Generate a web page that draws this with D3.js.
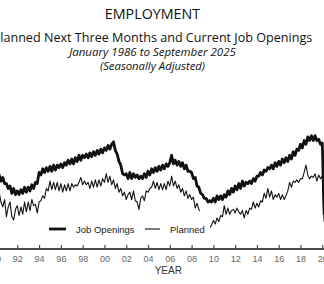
<!DOCTYPE html>
<html lang="en">
<head>
  <meta charset="UTF-8">
  <title>Employment – Planned and Current Job Openings</title>
  <script src="https://d3js.org/d3.v7.min.js"></script>
  <style>
    body {
      margin: 0;
      background: #fff;
    }

    .title {
      font-family: "Open Sans", sans-serif;
      fill: #111;
    }

    .axis text {
      font-family: "Liberation Sans", Arial, sans-serif;
      font-size: 9px;
      fill: #666;
    }

    .legend text {
      font-family: "Liberation Sans", Arial, sans-serif;
      font-size: 9.5px;
      fill: #222;
    }
  </style>
</head>
<body>

<div id="chart"></div>

<script>
  // bi-monthly readings (%), first point Jan 1990
  var startYear = 1990;
  var step = 2 / 12;

  var jobOpenings = [
    20, 18.5, 20, 17.5, 19, 16.5,
    16.5, 14.5, 15.5, 12.5, 14.5, 12,
    13.5, 12, 14, 12.5, 15, 13,
    15, 13.5, 16, 14.5, 17, 16.5,
    21, 20, 22.5, 21, 23, 21.5,
    23.5, 21.5, 24, 22, 24, 23,
    24.5, 23, 25, 24, 26, 24.5,
    26.5, 24.5, 27, 25.5, 28, 26,
    28, 27, 28.5, 27, 29, 27.5,
    29.5, 28, 30, 28.5, 30.5, 29,
    31, 30, 32, 30.5, 32.5, 33.5,
    30, 28.5, 25.5, 24, 20.5, 20,
    20.5, 18.5, 21, 18.5, 20.5, 19,
    20, 18.5, 19.5, 18.5, 20.5, 19,
    21.5, 20, 22.5, 21, 23, 21.5,
    23.5, 22, 24, 22.5, 24.5, 23.5,
    25, 28, 24.5, 26, 24, 25.5,
    23.5, 25, 22.5, 24, 21.5, 21.5,
    21, 18.5, 19, 15.5, 15, 12.5,
    12, 10.5, 10.5, 9, 9.5, 9,
    10.5, 9, 11.5, 10, 11.5, 10,
    12, 11, 13.5, 12, 14.5, 13,
    15.5, 14, 16.5, 14.5, 17.5, 15.5,
    17, 16.5, 17.5, 16.5, 18.5, 17.5,
    19.5, 19.5, 21, 20, 22, 21.5,
    23, 22.5, 24, 22.5, 25, 23.5,
    25.5, 24, 26.5, 25, 27, 25.5,
    28, 26.5, 29.5, 28, 30.5, 30,
    32.5, 31, 34, 32.5, 35.5, 34,
    36, 34, 36, 34, 34.5, 32.5,
    33, 4
  ];

  var planned = [
    15, 12, 13, 9, 7, 10,
    3, 7, 9, 3, 1.7, 6,
    7.5, 3.5, 7, 4, 9, 5,
    9, 5.5, 10, 7.5, 8, 4.5,
    9, 9.5, 11.5, 10.5, 14.5, 13.5,
    17.5, 14, 17, 14, 17, 13.5,
    16.5, 13, 16, 13.5, 16.5, 13.5,
    16.5, 15, 16, 15.5, 17, 19,
    16, 17.5, 16, 17, 14.5, 17.5,
    15, 18, 15, 18, 15.5, 18.5,
    17, 20.5, 17, 19.5, 16, 18,
    14.5, 16.5, 13, 14.5, 11.5, 13,
    10, 12, 13, 10, 13.5, 9.5,
    9, 6, 10.5, 11.5, 9.5, 13.5,
    13, 14.5, 15, 17.5, 14.5, 17,
    14, 16.5, 14, 16.5, 14, 17.5,
    15.5, 19.5, 15.5, 17.5, 14.5, 16,
    13, 14.5, 11.5, 13.5, 10.5, 12,
    10, 11, 6.5, 8.5, 6, 4,
    1, -1, -3, -2.5, -1.5, -0.4,
    1.5, 0, 2.5, 1, 3.5, 3,
    7.5, 4, 6.5, 4, 5.5, 6,
    4.5, 6.5, 5, 4, 5.5, 2.5,
    5.5, 4, 6.5, 6, 9, 6.5,
    8.5, 7, 9.5, 9, 12.5, 10.5,
    14.5, 11, 13.5, 10, 12, 11,
    12.5, 10, 12, 10, 11.5, 13.5,
    17, 15, 17.5, 17, 18, 17,
    18.5, 18.5, 21, 24, 20, 18.5,
    19.5, 19, 20.5, 17.5, 20, 18.5,
    19.5, 1
  ];

  var tickYears = d3.range(1990, 2021, 2);
  var seriesNames = ["Job Openings", "Planned"];
  var titleLines = [
    "EMPLOYMENT",
    "Planned Next Three Months and Current Job Openings",
    "January 1986 to September 2025",
    "(Seasonally Adjusted)"
  ];

  var width = 324;
  var height = 284;

  var svg = d3.select("#chart")
    .append("svg")
    .attr("width", width)
    .attr("height", height);

  var x = d3.scaleLinear()
    .domain([1992, 2020])
    .range([17.3, 322.3]);

  var y = d3.scaleLinear()
    .domain([0, 40])
    .range([224.1, 125.8]);

  var line = d3.line()
    .x((d, i) => x(startYear + i * step))
    .y(d => y(d));

  // titles
  var titleCx = 152.5;
  svg.append("text").attr("class", "title")
    .attr("x", titleCx).attr("y", 19)
    .attr("text-anchor", "middle")
    .style("font-size", "14.3px")
    .text(titleLines[0]);
  svg.append("text").attr("class", "title")
    .attr("x", titleCx).attr("y", 42)
    .attr("text-anchor", "middle")
    .style("font-size", "12.6px")
    .text(titleLines[1]);
  svg.append("text").attr("class", "title")
    .attr("x", titleCx).attr("y", 56)
    .attr("text-anchor", "middle")
    .style("font-size", "11.5px")
    .style("font-style", "italic")
    .text(titleLines[2]);
  svg.append("text").attr("class", "title")
    .attr("x", titleCx).attr("y", 69.5)
    .attr("text-anchor", "middle")
    .style("font-size", "11.3px")
    .style("font-style", "italic")
    .text(titleLines[3]);

  // series
  svg.append("path")
    .datum(planned)
    .attr("fill", "none")
    .attr("stroke", "#111")
    .attr("stroke-width", 1.1)
    .attr("stroke-linejoin", "round")
    .attr("d", line);

  svg.append("path")
    .datum(jobOpenings)
    .attr("fill", "none")
    .attr("stroke", "#111")
    .attr("stroke-width", 2.8)
    .attr("stroke-linejoin", "round")
    .attr("d", line);

  // legend (white box sits over the lines)
  var legend = svg.append("g").attr("class", "legend");
  legend.append("rect")
    .attr("x", 40).attr("y", 211)
    .attr("width", 170).attr("height", 35)
    .attr("fill", "#fff");

  legend.append("line")
    .attr("x1", 49).attr("x2", 66)
    .attr("y1", 229).attr("y2", 229)
    .attr("stroke", "#111").attr("stroke-width", 2.8);
  legend.append("text")
    .attr("x", 76).attr("y", 232.5)
    .text(seriesNames[0]);

  legend.append("line")
    .attr("x1", 145).attr("x2", 160)
    .attr("y1", 229).attr("y2", 229)
    .attr("stroke", "#111").attr("stroke-width", 1.1);
  legend.append("text")
    .attr("x", 170).attr("y", 232.5)
    .text(seriesNames[1]);

  // x axis
  var axisY = 249;
  svg.append("line")
    .attr("x1", 0).attr("x2", width)
    .attr("y1", axisY).attr("y2", axisY)
    .attr("stroke", "#4a4a4a")
    .attr("stroke-width", 2);

  var xAxis = d3.axisBottom(x)
    .tickValues(tickYears)
    .tickSizeInner(-4)
    .tickSizeOuter(0)
    .tickPadding(13)
    .tickFormat(d => String(d).slice(2));

  var gx = svg.append("g")
    .attr("class", "axis")
    .attr("transform", "translate(0," + axisY + ")")
    .call(xAxis);
  gx.select(".domain").remove();
  gx.selectAll(".tick line")
    .attr("stroke", "#4a4a4a")
    .attr("stroke-width", 1.2);
  gx.selectAll(".tick text")
    .attr("dy", "0");

  svg.append("text")
    .attr("x", 168.3).attr("y", 273.5)
    .attr("text-anchor", "middle")
    .style("font-family", "'Liberation Sans', Arial, sans-serif")
    .style("font-size", "10px")
    .style("fill", "#333")
    .text("YEAR");
</script>
</body>
</html>
